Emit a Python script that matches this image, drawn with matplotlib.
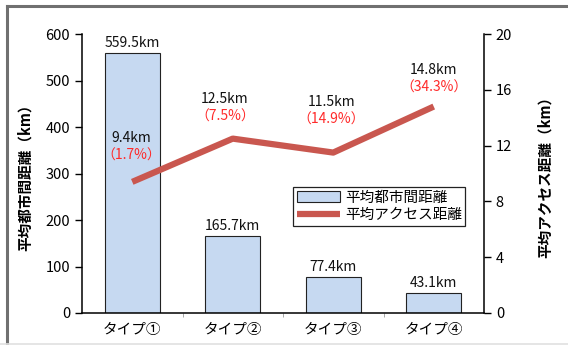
import matplotlib
matplotlib.use("Agg")
import matplotlib.pyplot as plt
from matplotlib.lines import Line2D

plt.rcParams['font.family'] = ['Noto Sans CJK JP', 'DejaVu Sans']

categories = ['タイプ①', 'タイプ②', 'タイプ③', 'タイプ④']
city_dist = [559.5, 165.7, 77.4, 43.1]
access_dist = [9.4, 12.5, 11.5, 14.8]
access_pct = ['（1.7%）', '（7.5%）', '（14.9%）', '（34.3%）']
bar_name = '平均都市間距離'
line_name = '平均アクセス距離'
left_label = '平均都市間距離（km）'
right_label = '平均アクセス距離（km）'
left_ticks = [0, 100, 200, 300, 400, 500, 600]
right_ticks = [0, 4, 8, 12, 16, 20]

# label offsets (pixels) for line annotations: (dx, dy of pct label)
line_lab_offsets = [(-1, 19), (-8, 15), (-2, 26), (0, 12)]

W, H = 568, 345
fig = plt.figure(figsize=(W / 100, H / 100), dpi=100)
ax = fig.add_axes([82 / W, 1 - 313 / H, (484 - 82) / W, (313 - 34) / H])
ax2 = ax.twinx()

x = list(range(len(categories)))
bars = ax.bar(x, city_dist, width=0.55, color='#C6D9F1', edgecolor='#222222',
              linewidth=0.8, label=bar_name, zorder=2)
for xi, v in zip(x, city_dist):
    ax.annotate(f'{v}km', (xi, v), xytext=(0, 3), textcoords='offset pixels',
                ha='center', va='bottom', fontsize=10, color='#111111')

ax.set_xlim(-0.5, len(categories) - 0.5)
ax.set_ylim(0, 600)
ax.set_yticks(left_ticks)
ax.set_xticks(x)
ax.set_xticklabels(categories, fontsize=10.5)
ax.set_xticks([i + 0.5 for i in range(len(categories) - 1)], minor=True)
ax.tick_params(axis='x', which='major', length=0, pad=7)
ax.tick_params(axis='x', which='minor', length=3, direction='out', color='#999999')
ax.tick_params(axis='y', labelsize=10.5, length=5, direction='out', width=1)
ax.set_ylabel(left_label, fontsize=10.5, fontweight='bold', labelpad=9)

line, = ax2.plot(x, access_dist, color='#C9574F', linewidth=4.5, label=line_name,
                 solid_capstyle='butt', zorder=3)
ax2.set_ylim(0, 20)
ax2.set_yticks(right_ticks)
ax2.tick_params(axis='y', labelsize=10.5, length=5, direction='out', width=1)
ax2.set_ylabel(right_label, fontsize=10.5, fontweight='bold', labelpad=18)

for xi, v, p, (dx, dy) in zip(x, access_dist, access_pct, line_lab_offsets):
    ax2.annotate(p, (xi, v), xytext=(dx, dy), textcoords='offset pixels',
                 ha='center', va='bottom', fontsize=10, color='#FF2A2A')
    ax2.annotate(f'{v}km', (xi, v), xytext=(dx, dy + 18), textcoords='offset pixels',
                 ha='center', va='bottom', fontsize=10, color='#111111')

for a in (ax, ax2):
    a.spines['top'].set_visible(False)
    for s in ('left', 'right', 'bottom'):
        a.spines[s].set_color('#000000')
        a.spines[s].set_linewidth(1.1)
ax2.spines['left'].set_visible(False)
ax2.spines['bottom'].set_visible(False)
ax.spines['right'].set_visible(False)

leg = ax2.legend([bars, line], [bar_name, line_name], loc='upper left',
                 bbox_to_anchor=((293 - 82) / 402, 1 - (187 - 34) / 279),
                 fontsize=10.5, frameon=True, fancybox=False, edgecolor='#222222',
                 framealpha=1, handlelength=3.0, borderpad=0.25, labelspacing=0.25,
                 handletextpad=0.3, borderaxespad=0)
leg.get_frame().set_linewidth(0.9)

# outer frame: top and left dark grey, bottom faint
fig.add_artist(Line2D([7 / W, 1], [1 - 6 / H, 1 - 6 / H], transform=fig.transFigure,
                      color='#707070', linewidth=2.2))
fig.add_artist(Line2D([7 / W, 7 / W], [0, 1 - 6 / H], transform=fig.transFigure,
                      color='#707070', linewidth=2.2))
fig.add_artist(Line2D([0, 1], [1.5 / H, 1.5 / H], transform=fig.transFigure,
                      color='#E0E0E0', linewidth=1.2))

fig.savefig('out.png', dpi=100)
